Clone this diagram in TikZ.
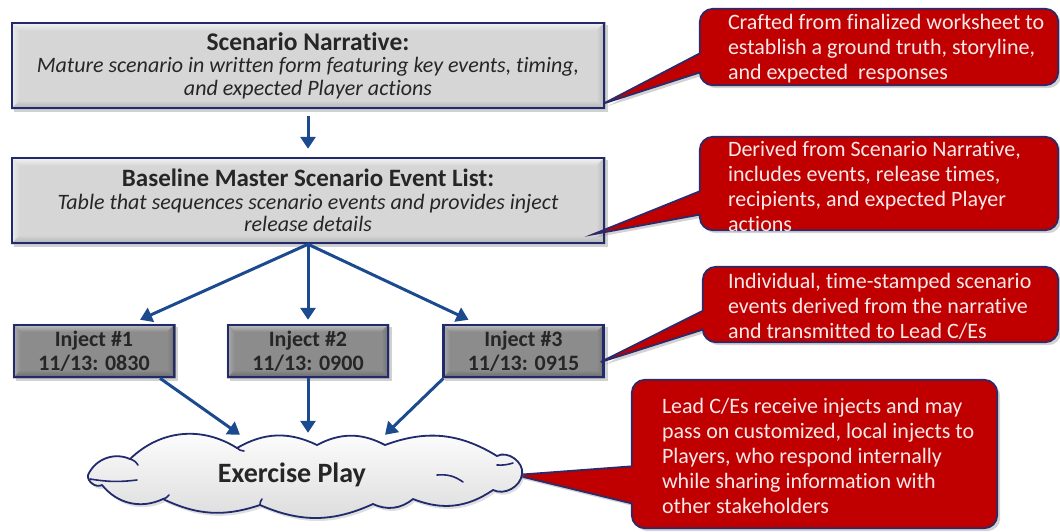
\documentclass[tikz,border=0pt]{standalone}
\usepackage{fontspec}
\setmainfont{Carlito}[Ligatures=NoCommon]
\usetikzlibrary{arrows.meta,shapes.geometric,calc,backgrounds,shadows}
\definecolor{navy}{HTML}{202A6C}
\definecolor{arrowblue}{HTML}{1C4A8E}
\definecolor{cred}{HTML}{C00000}
\definecolor{cborder}{HTML}{2E2A6A}
\definecolor{ctxt}{HTML}{F8E9E9}
\definecolor{boxtxt}{HTML}{262626}
\definecolor{bigbase}{HTML}{D6D6D6}
\definecolor{bigtop}{HTML}{F7F7F7}
\definecolor{bigleft}{HTML}{EDEDED}
\definecolor{bigright}{HTML}{B5B5B5}
\definecolor{bigbot}{HTML}{ADADAD}
\definecolor{injbase}{HTML}{8C8C8C}
\definecolor{injtop}{HTML}{C8C8C8}
\definecolor{injleft}{HTML}{ADADAD}
\definecolor{injright}{HTML}{6E6E6E}
\definecolor{injbot}{HTML}{646464}

% #1 node, #2 inset, #3 base, #4 top, #5 left, #6 right, #7 bottom
\newcommand{\bvlbox}[7]{%
  \begin{scope}[on background layer]
    \fill[black,opacity=0.18] ($(#1.north west)+(3,3)$) rectangle ($(#1.south east)+(3,3)$);
    \fill[#3] (#1.north west) rectangle (#1.south east);
    \shade[top color=#4, bottom color=#3] (#1.north west) -- (#1.north east) -- ($(#1.north east)+(-#2,#2)$) -- ($(#1.north west)+(#2,#2)$) -- cycle;
    \shade[left color=#5, right color=#3] (#1.north west) -- ($(#1.north west)+(#2,#2)$) -- ($(#1.south west)+(#2,-#2)$) -- (#1.south west) -- cycle;
    \shade[left color=#3, right color=#6] (#1.north east) -- (#1.south east) -- ($(#1.south east)+(-#2,-#2)$) -- ($(#1.north east)+(-#2,#2)$) -- cycle;
    \shade[top color=#3, bottom color=#7] (#1.south west) -- (#1.south east) -- ($(#1.south east)+(-#2,-#2)$) -- ($(#1.south west)+(#2,-#2)$) -- cycle;
  \end{scope}}

% #1 body node, #2 tip
\newcommand{\calloutshape}[2]{%
  \begin{scope}[on background layer]
    \path[fill=cred, draw=cborder, line width=1.8pt, drop shadow={opacity=0.35, shadow xshift=3pt, shadow yshift=-3pt}]
      (#2) -- ($(#1.north west)!0.583!(#1.south west)$) [rounded corners=13pt] -- (#1.north west) -- (#1.north east) -- (#1.south east) -- (#1.south west) [sharp corners] -- ($(#1.north west)!0.833!(#1.south west)$) -- cycle;
  \end{scope}}

\tikzset{
  bigbox/.style={draw=navy, line width=2.5pt, minimum width=592pt, minimum height=85pt, inner sep=0pt,
    align=center, text=boxtxt, font=\fontsize{22}{22.5}\selectfont},
  injbox/.style={draw=navy, line width=2.5pt, minimum width=160pt, minimum height=52pt, inner sep=0pt,
    align=center, text=boxtxt, font=\bfseries\fontsize{22}{24}\selectfont},
  arr/.style={draw=arrowblue, line width=3pt, -{Triangle[length=12pt,width=15pt]}},
  cbody/.style={inner sep=0pt},
  ctext/.style={inner sep=0pt, align=left, text=ctxt, font=\fontsize{22}{25}\selectfont},
  cloudline/.style={draw=navy, line width=1.8pt, line join=round},
  puff/.style={draw=navy, line width=1.6pt, line cap=round},
}

\begin{document}
\begin{tikzpicture}[x=1pt, y=-1pt]
\useasboundingbox (0,0) rectangle (1060,531);

% main boxes
\node[bigbox] (narr) at (308,65.5) {{\bfseries\fontsize{25.5}{22.5}\selectfont Scenario Narrative:}\\ \itshape Mature scenario in written form featuring key events, timing,\\ \itshape and expected Player actions};
\node[bigbox] (msel) at (308,200.5) {{\bfseries\fontsize{25}{22.5}\selectfont Baseline Master Scenario Event List:}\\ \itshape Table that sequences scenario events and provides inject\\ \itshape release details};
\bvlbox{narr}{9}{bigbase}{bigtop}{bigleft}{bigright}{bigbot}
\bvlbox{msel}{9}{bigbase}{bigtop}{bigleft}{bigright}{bigbot}

% injects
\node[injbox] (inj1) at (94,351) {Inject \#1\\11/13: 0830};
\node[injbox] (inj2) at (308,351) {Inject \#2\\11/13: 0900};
\node[injbox] (inj3) at (523.5,351) {Inject \#3\\11/13: 0915};
\bvlbox{inj1}{8}{injbase}{injtop}{injleft}{injright}{injbot}
\bvlbox{inj2}{8}{injbase}{injtop}{injleft}{injright}{injbot}
\bvlbox{inj3}{8}{injbase}{injtop}{injleft}{injright}{injbot}

% cloud
\node[ellipse, minimum width=434pt, minimum height=76pt, inner sep=0pt] (play) at (306,477) {};
\begin{scope}[shift={(play.center)}]
  \path[cloudline, top color=white, bottom color=gray!28, drop shadow={opacity=0.25, shadow xshift=2pt, shadow yshift=-3pt}]
    (-176,-18) to[bend left=38] (-69,-29) to[bend left=28] (11,-32) to[bend left=28] (79,-32)
    to[bend left=26] (191,-21) to[bend left=65] (216,-3) to[bend left=55] (187,13)
    to[bend left=28] (107,22) to[bend left=32] (67,27) to[bend left=24] (-46,28)
    to[bend left=22] (-143,22) to[bend left=38] (-204,8) to[bend left=65] (-218,-2)
    to[bend left=45] (-176,-18) -- cycle;
  \draw[puff] (-216,2) to[bend right=8] (-169,3);
  \draw[puff] (-176,-18) to[bend left=20] (-168,-12);
  \draw[puff] (-69,-29) to[bend right=20] (-62,-26);
  \draw[puff] (191,-12) to[bend right=10] (207,-14);
  \draw[puff] (131,-2) to[bend left=20] (157,5);
  \draw[puff] (-46,28) to[bend left=20] (-44,22);
  \draw[puff] (-143,22) to[bend right=20] (-137,18);
\end{scope}
\node[font=\bfseries\fontsize{28}{30}\selectfont, text=boxtxt, inner sep=0pt] (playtxt) at ([xshift=-14pt,yshift=2pt]play.center) {Exercise Play};

% arrows
\draw[arr] ([yshift=-7pt]narr.south) -- ([yshift=8pt]msel.north);
\draw[arr] (msel.south) -- ([xshift=46pt,yshift=4pt]inj1.north);
\draw[arr] (msel.south) -- ([yshift=4pt]inj2.north);
\draw[arr] (msel.south) -- ([xshift=-55pt,yshift=4pt]inj3.north);
\draw[arr] ([xshift=66pt]inj1.south) -- ([xshift=-66pt,yshift=4pt]play.north);
\draw[arr] (inj2.south) -- ([xshift=2pt,yshift=6pt]play.north);
\draw[arr] ([xshift=-80pt]inj3.south) -- ([xshift=79pt,yshift=4pt]play.north);

% callouts
\node[cbody, minimum width=358pt, minimum height=76pt] (c1) at (879,47) {};
\node[ctext, anchor=west] (c1t) at ([xshift=28pt,yshift=-2pt]c1.west) {Crafted from finalized worksheet to\\establish a ground truth, storyline,\\and expected~ responses};
\coordinate (t1) at ([xshift=-1pt,yshift=6pt]narr.south east);
\calloutshape{c1}{t1}

\node[cbody, minimum width=358pt, minimum height=93pt] (c2) at (879,183.5) {};
\node[ctext, anchor=west] (c2t) at ([xshift=28pt,yshift=-3pt]c2.west) {Derived from Scenario Narrative,\\includes events, release times,\\recipients, and expected Player\\actions};
\coordinate (t2) at ([xshift=-12pt,yshift=10pt]msel.south east);
\calloutshape{c2}{t2}

\node[cbody, minimum width=355pt, minimum height=75pt] (c3) at (880.5,304.5) {};
\node[ctext, anchor=west] (c3t) at ([xshift=25pt,yshift=-2pt]c3.west) {Individual, time-stamped scenario\\events derived from the narrative\\and transmitted to Lead C/Es};
\coordinate (t3) at ([xshift=-4pt,yshift=-11pt]inj3.east);
\calloutshape{c3}{t3}

\node[cbody, minimum width=365pt, minimum height=148pt] (c4) at (814.5,454) {};
\node[ctext, anchor=west] (c4t) at ([xshift=30pt,yshift=-2pt]c4.west) {Lead C/Es receive injects and may\\pass on customized, local injects to\\Players, who respond internally\\while sharing information with\\other stakeholders};
\coordinate (t4) at ([xshift=-8pt,yshift=2pt]play.east);
\calloutshape{c4}{t4}
\end{tikzpicture}
\end{document}
